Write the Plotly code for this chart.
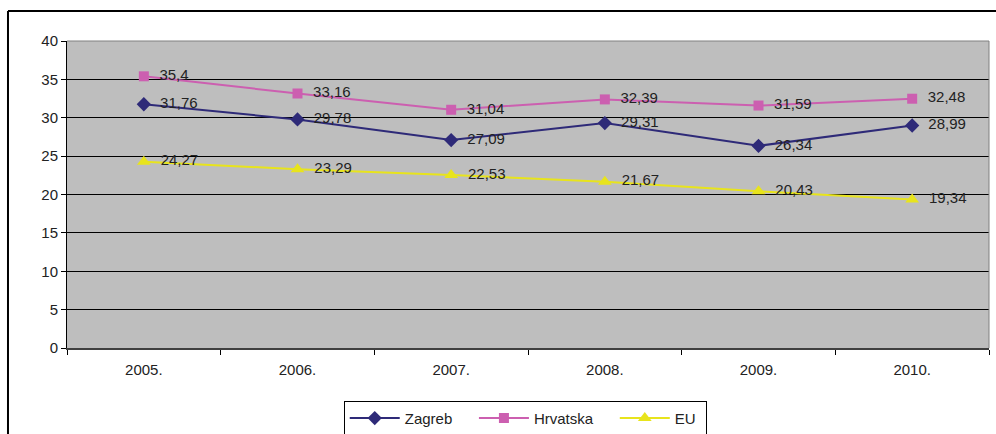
import plotly.graph_objects as go

years = ["2005.", "2006.", "2007.", "2008.", "2009.", "2010."]
zagreb = [31.76, 29.78, 27.09, 29.31, 26.34, 28.99]
hrvatska = [35.4, 33.16, 31.04, 32.39, 31.59, 32.48]
eu = [24.27, 23.29, 22.53, 21.67, 20.43, 19.34]

def lbl(v):
    s = ("%.2f" % v).rstrip("0").rstrip(".")
    return "\u00a0\u00a0" + s.replace(".", ",")

NB = "\u00a0" * 4
series = [
    ("Zagreb" + NB, zagreb, "#2E2A78", "diamond", 11),
    ("Hrvatska" + NB, hrvatska, "#CC5FB0", "square", 10),
    ("EU\u00a0", eu, "#E8E41C", "triangle-up", 12),
]

fig = go.Figure()
for name, vals, col, sym, sz in series:
    fig.add_trace(go.Scatter(
        x=years, y=vals, name=name, mode="lines+markers+text",
        line=dict(color=col, width=2),
        marker=dict(symbol=sym, size=sz, color=col),
        text=[lbl(v) for v in vals], textposition="middle right",
        textfont=dict(family="Arial, Liberation Sans", size=15, color="#222222"),
        cliponaxis=False,
    ))

fig.update_layout(
    width=996, height=434,
    margin=dict(l=67, r=7, t=41, b=86, autoexpand=False),
    paper_bgcolor="white", plot_bgcolor="#BEBEBE",
    font=dict(family="Arial, Liberation Sans", size=15, color="#222222"),
    showlegend=True,
    legend=dict(orientation="h", x=0.497, xanchor="center", y=-0.172, yanchor="top",
                bordercolor="black", borderwidth=1, bgcolor="white",
                font=dict(size=15), itemwidth=50),
    xaxis=dict(type="category", range=[-0.5, 5.5], showgrid=False, ticks="outside", ticklen=5,
               tickson="boundaries", tickcolor="black", showline=True,
               linecolor="#404040", linewidth=2, mirror=False, zeroline=False,
               tickfont=dict(size=15), ticklabelstandoff=7, fixedrange=True),
    yaxis=dict(range=[0, 40], dtick=5, showgrid=True, gridcolor="black", gridwidth=1,
               ticks="outside", ticklen=5, tickcolor="black", showline=True,
               linecolor="black", linewidth=1, zeroline=False,
               tickfont=dict(size=15), fixedrange=True),
)
# right and top border of plot area
fig.add_shape(type="line", xref="paper", yref="paper", x0=1, x1=1, y0=0, y1=1,
              line=dict(color="#808080", width=1))
fig.add_shape(type="line", xref="paper", yref="paper", x0=0, x1=1, y0=1, y1=1,
              line=dict(color="#808080", width=1))
# outer chart frame
fig.add_shape(type="line", xref="paper", yref="paper", x0=-0.064, x1=1.02, y0=1.0977, y1=1.0977,
              line=dict(color="black", width=2))
fig.add_shape(type="line", xref="paper", yref="paper", x0=-0.064, x1=-0.064, y0=1.0977, y1=-0.3,
              line=dict(color="black", width=2))

fig.write_html("out.html", config={"displayModeBar": False},
               post_script="document.body.style.margin='0';document.body.style.overflow='hidden';")
